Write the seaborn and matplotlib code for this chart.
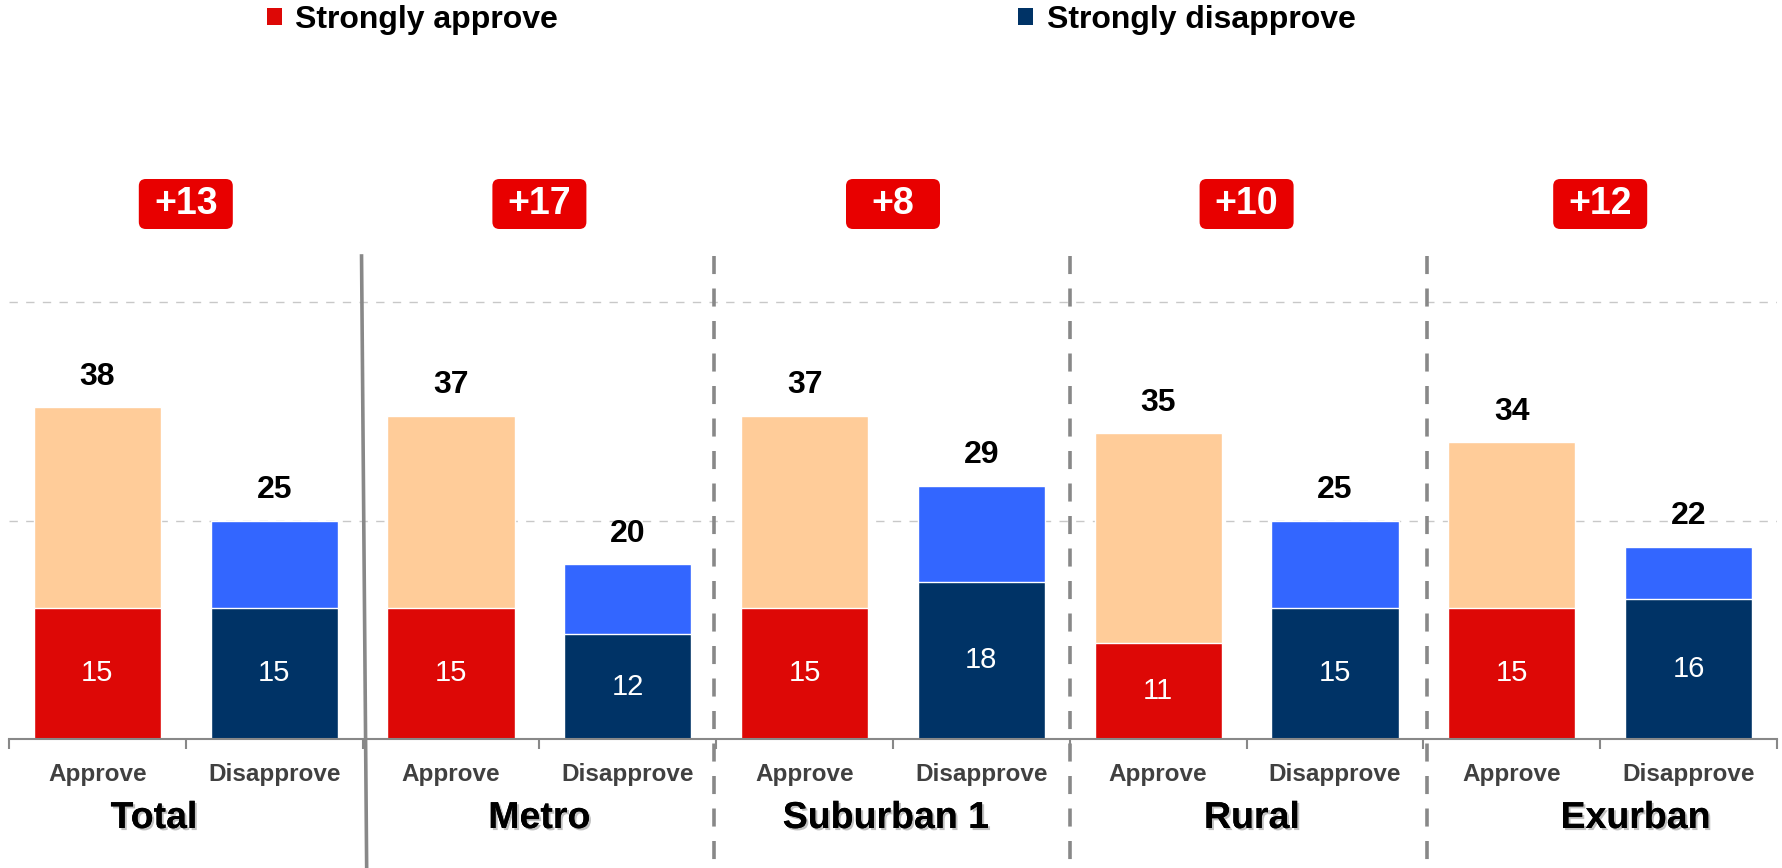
import pandas as pd
import seaborn as sns
import matplotlib.pyplot as plt
import matplotlib.transforms as mtransforms
import matplotlib.patheffects as pe
from matplotlib.patches import Patch, FancyBboxPatch

# -------------------------------
# Data
# -------------------------------
groups = ["Total", "Metro", "Suburban 1", "Rural", "Exurban"]
kinds = ["Approve", "Disapprove"]
approve_total = [38, 37, 37, 35, 34]
approve_strong = [15, 15, 15, 11, 15]
disapprove_total = [25, 20, 29, 25, 22]
disapprove_strong = [15, 12, 18, 15, 16]
net_labels = ["+13", "+17", "+8", "+10", "+12"]

# long table, one row per bar
rows = []
for i, g in enumerate(groups):
    rows.append({"key": g + "|Approve", "kind": "Approve",
                 "total": approve_total[i], "strong": approve_strong[i]})
    rows.append({"key": g + "|Disapprove", "kind": "Disapprove",
                 "total": disapprove_total[i], "strong": disapprove_strong[i]})
df = pd.DataFrame(rows)

light = {"Approve": "#FFCC99", "Disapprove": "#3366FF"}
dark = {"Approve": "#DD0806", "Disapprove": "#003366"}

plt.rcParams["font.family"] = ["Liberation Sans", "DejaVu Sans"]

W, H = 1783, 868
fig = plt.figure(figsize=(W / 100, H / 100), dpi=100)
base_px = 739
ppu = 8.74  # pixels per unit
ax = fig.add_axes([9 / W, 1 - base_px / H, (1777 - 9) / W, base_px / H])

# -------------------------------
# Bars
# -------------------------------
pal_light = [light[k] for k in df["kind"]]
pal_dark = [dark[k] for k in df["kind"]]
sns.barplot(data=df, x="key", y="total", hue="key", palette=pal_light,
            width=0.72, saturation=1, legend=False, ax=ax,
            edgecolor="white", linewidth=1, errorbar=None)
sns.barplot(data=df, x="key", y="strong", hue="key", palette=pal_dark,
            width=0.72, saturation=1, legend=False, ax=ax,
            edgecolor="white", linewidth=1, errorbar=None)

ax.set_xlim(-0.5, 9.5)
ax.set_ylim(0, base_px / ppu)

# labels on bars
for i, r in df.iterrows():
    ax.annotate(str(r["total"]), (i, r["total"]), xytext=(0, 11),
                textcoords="offset points", ha="center", va="bottom",
                fontsize=23, fontweight="bold", color="black")
    ax.text(i, r["strong"] / 2, str(r["strong"]), ha="center", va="center",
            fontsize=21, color="white")

# -------------------------------
# Axes styling
# -------------------------------
for s in ["top", "right", "left"]:
    ax.spines[s].set_visible(False)
ax.spines["bottom"].set_color("#888888")
ax.spines["bottom"].set_linewidth(1.5)
ax.set_yticks([])
ax.set_ylabel("")
ax.set_xlabel("")
ax.set_xticks(range(len(df)))
ax.set_xticklabels(list(df["kind"]), fontsize=17.5, fontweight="bold",
                   color="#404040")
ax.tick_params(axis="x", which="major", length=0, pad=17)
ax.set_xticks([x - 0.5 for x in range(len(df) + 1)], minor=True)
ax.tick_params(axis="x", which="minor", length=7, width=1.5, color="#888888")
ax.grid(False)

for yv in [25, 50]:
    ax.axhline(yv, color="#C8C8C8", lw=1, ls=(0, (6, 6)), zorder=0)

# separators
top_y = (base_px - 256) / ppu
bot_y = -(H - base_px) / ppu
ax.plot([1.494, 1.523], [top_y, bot_y], color="#888888", lw=2.6,
        clip_on=False, zorder=1)
for xs in [3.49, 5.5, 7.52]:
    ax.plot([xs, xs], [top_y, bot_y], color="#888888", lw=2.6,
            ls=(0, (5, 4)), clip_on=False, zorder=1)

# group names
group_x = [0.32, 2.5, 4.46, 6.53, 8.70]
for gx, g in zip(group_x, groups):
    ax.text(gx, -(818 - base_px) / ppu, g, ha="center", va="center",
            fontsize=27, fontweight="bold", color="black", clip_on=False,
            path_effects=[pe.withSimplePatchShadow(offset=(1.5, -1.5),
                                                   shadow_rgbFace="#999999",
                                                   alpha=0.6),
                          pe.Normal()])

# net badges
badge_y = (base_px - 204) / ppu
for i, lab in enumerate(net_labels):
    cx = 2 * i + 0.5
    trans = fig.dpi_scale_trans + mtransforms.ScaledTranslation(cx, badge_y, ax.transData)
    box = FancyBboxPatch((-0.47, -0.25), 0.94, 0.50,
                         boxstyle="round,pad=0,rounding_size=0.07",
                         transform=trans, facecolor="#E80000",
                         edgecolor="none", clip_on=False)
    ax.add_patch(box)
    ax.text(cx, badge_y, lab, ha="center", va="center", fontsize=27,
            fontweight="bold", color="white")

# -------------------------------
# Legend
# -------------------------------
handles = [Patch(facecolor=dark["Approve"], edgecolor="none"),
           Patch(facecolor=dark["Disapprove"], edgecolor="none")]
fig.legend(handles, ["Strongly approve", "Strongly disapprove"],
           loc="center left", bbox_to_anchor=(267 / W, 1 - 20 / H),
           ncol=2, frameon=False,
           prop={"weight": "bold", "size": 23},
           handlelength=0.47, handleheight=0.47, handletextpad=0.42,
           columnspacing=14.4, borderpad=0, borderaxespad=0)

fig.savefig("out.png", dpi=100)
